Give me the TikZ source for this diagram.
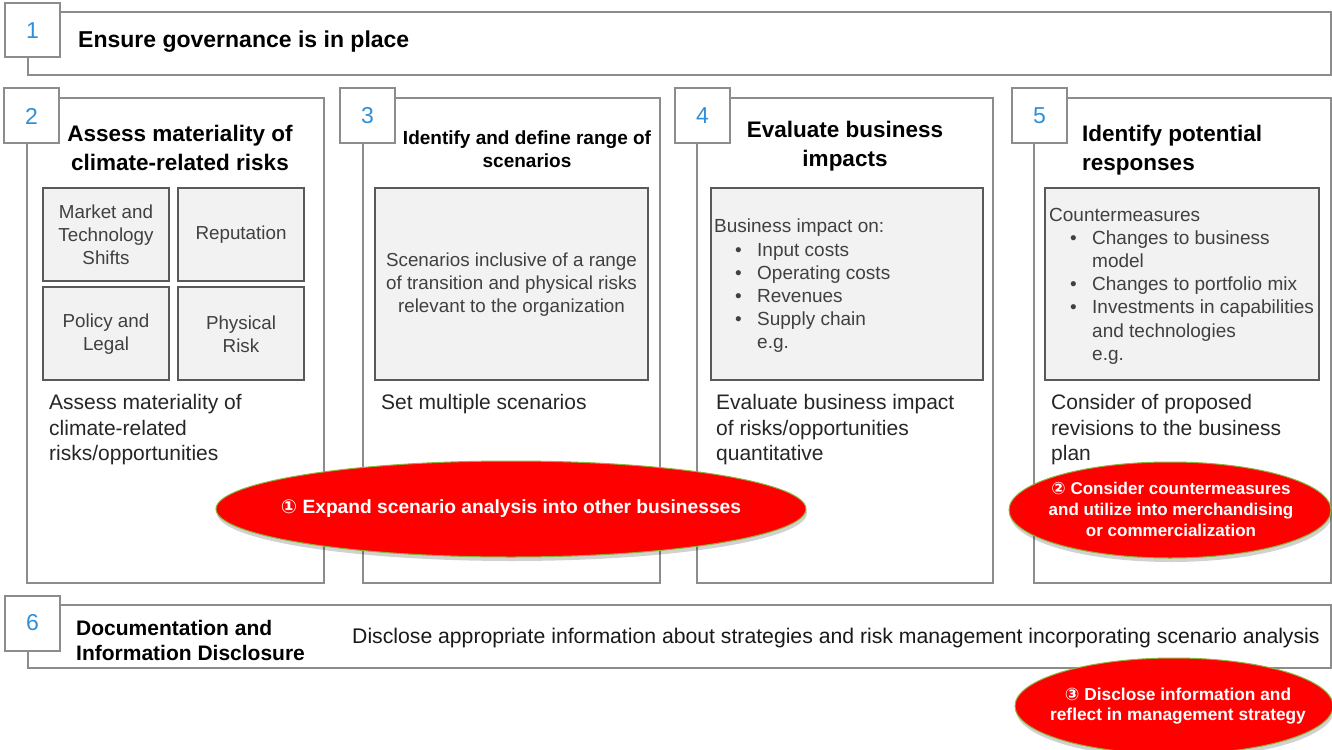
\documentclass[tikz,border=0pt]{standalone}
\usepackage{fontspec}
\setmainfont{Liberation Sans}
\newfontfamily\symfont{DejaVu Sans}
\usetikzlibrary{shapes.geometric,shadows}
\definecolor{framegray}{HTML}{8C8C8C}
\definecolor{innergray}{HTML}{595959}
\definecolor{innerfill}{HTML}{F2F2F2}
\definecolor{numblue}{HTML}{2F8FD8}
\definecolor{txtgray}{HTML}{404040}
\definecolor{bodytxt}{HTML}{262626}
\definecolor{ellred}{HTML}{FF0000}
\definecolor{ellgreen}{HTML}{8CB43C}
\newcommand{\fsz}[2]{\fontsize{#1}{#2}\selectfont}
\newcommand{\bul}[1]{\hspace*{21pt}\makebox[22pt][l]{•}#1}
\newcommand{\cont}[1]{\hspace*{43pt}#1}
\begin{document}
\begin{tikzpicture}[x=1pt,y=-1pt,
  frame/.style={draw=framegray,line width=1.6pt},
  numbox/.style={draw=framegray,line width=1.6pt,fill=white},
  innerbox/.style={draw=innergray,line width=1.5pt,fill=innerfill},
  numlabel/.style={text=numblue,font=\fsz{23}{26},inner sep=0pt},
  heading/.style={font=\bfseries\fsz{22.5}{28.5},inner sep=0pt,align=center,text=black},
  body/.style={font=\fsz{21}{25.5},inner sep=0pt,align=left,text=bodytxt},
  inner/.style={font=\fsz{18.8}{23},inner sep=0pt,align=center,text=txtgray},
  innerlist/.style={font=\fsz{19}{23.2},inner sep=0pt,align=left,text=txtgray},
  redell/.style={ellipse,fill=ellred,draw=ellgreen,line width=1pt,inner sep=0pt,
    drop shadow={shadow xshift=1pt,shadow yshift=-4pt,opacity=0.18,fill=black}},
  elltext/.style={text=white,font=\bfseries\fsz{17}{21},align=center,inner sep=0pt}
]
\useasboundingbox (0,0) rectangle (1332,749);
\clip (0,0) rectangle (1332,749);
\fill[white] (0,0) rectangle (1332,749);

% ---------- Box 1 ----------
\draw[frame] (28,12) rectangle (1331,75);
\draw[numbox] (5,3) rectangle (60,57);
\node[numlabel] (n1) at (32.5,31) {1};
\node[heading,anchor=west,font=\bfseries\fsz{23}{28}] (t1) at (78,42) {Ensure governance is in place};

% ---------- Box 2 ----------
\draw[frame] (27,98) rectangle (324,583);
\draw[numbox] (4,88) rectangle (59,143);
\node[numlabel] (n2) at (31.5,116) {2};
\node[heading] (h2) at (180,148) {Assess materiality of\\climate-related risks};
\draw[innerbox] (43,188) rectangle (169,281);
\draw[innerbox] (178,188) rectangle (304,281);
\draw[innerbox] (43,287) rectangle (169,380);
\draw[innerbox] (178,287) rectangle (304,380);
\node[inner] (i2a) at (106,235) {Market and\\Technology\\Shifts};
\node[inner] (i2b) at (241,235) {Reputation};
\node[inner] (i2c) at (106,334) {Policy and\\Legal};
\node[inner] (i2d) at (241,334) {Physical\\Risk};
\node[body,anchor=west] (b2) at (49,430) {Assess materiality of\\climate-related\\risks/opportunities};

% ---------- Box 3 ----------
\draw[frame] (363,98) rectangle (660,583);
\draw[numbox] (340,88) rectangle (395,143);
\node[numlabel] (n3) at (367.5,116) {3};
\node[heading,font=\bfseries\fsz{19}{22.5}] (h3) at (527,149) {Identify and define range of\\scenarios};
\draw[innerbox] (375,188) rectangle (648,380);
\node[inner] (i3) at (511.5,285) {Scenarios inclusive of a range\\of transition and physical risks\\relevant to the organization};
\node[body,anchor=west] (b3) at (381,404) {Set multiple scenarios};

% ---------- Box 4 ----------
\draw[frame] (697,98) rectangle (993,583);
\draw[numbox] (675,88) rectangle (730,143);
\node[numlabel] (n4) at (702.5,116) {4};
\node[heading] (h4) at (845,146) {Evaluate business\\impacts};
\draw[innerbox] (711,188) rectangle (983,380);
\node[innerlist,anchor=west] (i4) at (714,286) {Business impact on:\\\bul{Input costs}\\\bul{Operating costs}\\\bul{Revenues}\\\bul{Supply chain}\\\cont{e.g.}};
\node[body,anchor=west] (b4) at (716,430) {Evaluate business impact\\of risks/opportunities\\quantitative};

% ---------- Box 5 ----------
\draw[frame] (1034,98) rectangle (1331,583);
\draw[numbox] (1012,88) rectangle (1067,143);
\node[numlabel] (n5) at (1039.5,116) {5};
\node[heading,align=left,anchor=west] (h5) at (1082,150) {Identify potential\\responses};
\draw[innerbox] (1045,188) rectangle (1319,380);
\node[innerlist,anchor=west] (i5) at (1049,286) {Countermeasures\\\bul{Changes to business}\\\cont{model}\\\bul{Changes to portfolio mix}\\\bul{Investments in capabilities}\\\cont{and technologies}\\\cont{e.g.}};
\node[body,anchor=west] (b5) at (1051,430) {Consider of proposed\\revisions to the business\\plan};

% ---------- Box 6 ----------
\draw[frame] (28,605) rectangle (1331,668);
\draw[numbox] (5,596) rectangle (60,651);
\node[numlabel] (n6) at (32.5,623) {6};
\node[heading,align=left,anchor=west,font=\bfseries\fsz{21}{25}] (h6) at (76,640) {Documentation and\\Information Disclosure};
\node[body,anchor=west,text=black!90,font=\fsz{21.2}{24}] (b6) at (352,638) {Disclose appropriate information about strategies and risk management incorporating scenario analysis};

% ---------- Red ellipses ----------
\node[redell,minimum width=590pt,minimum height=96pt] (e1) at (511,509) {};
\node[elltext,font=\bfseries\fsz{19.2}{22}] (e1t) at (e1.center) {{\symfont\bfseries ①} Expand scenario analysis into other businesses};
\node[redell,minimum width=322pt,minimum height=96pt] (e2) at (1170,510) {};
\node[elltext] (e2t) at (1171,509) {{\symfont\bfseries ②} Consider countermeasures\\and utilize into merchandising\\or commercialization};
\node[redell,minimum width=318pt,minimum height=96pt] (e3) at (1174,706) {};
\node[elltext,font=\bfseries\fsz{17.3}{20.5}] (e3t) at (1178,706) {{\symfont\bfseries ③} Disclose information and\\reflect in management strategy};
\end{tikzpicture}
\end{document}
